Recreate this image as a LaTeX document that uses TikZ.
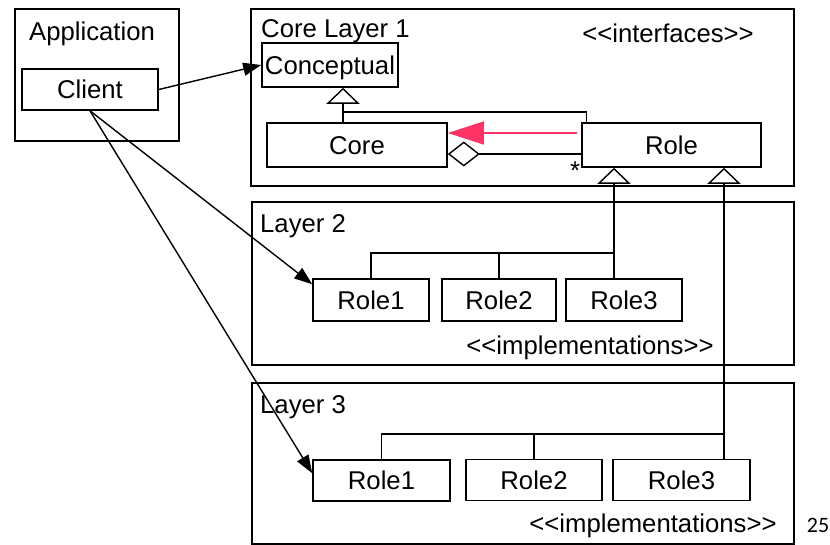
\documentclass[tikz,border=0pt]{standalone}
\usepackage{fontspec}
\setmainfont{Liberation Sans}
\newfontfamily\pagefont{Carlito}
\usetikzlibrary{arrows.meta}
\definecolor{hotpink}{RGB}{255,51,102}
\tikzset{
  layer/.style={draw, line width=1.6pt, inner sep=0pt, anchor=north west},
  box/.style={draw, line width=1.6pt, inner sep=0pt, minimum height=42,
              text height=18.5pt, text depth=0pt},
  title/.style={anchor=base west, inner sep=0pt},
  stereo/.style={anchor=base, inner sep=0pt},
  gen/.style={line width=1.4pt, -{Triangle[open, length=16pt, width=33pt]}},
  tree/.style={line width=1.4pt},
  agg/.style={line width=1.4pt, {Diamond[open, length=32pt, width=25pt]}-},
  nav/.style={line width=1.4pt, -{Triangle[length=18pt, width=13pt]}},
}

\begin{document}
\begin{tikzpicture}[x=1pt, y=-1pt, font=\fontsize{25.7}{30}\selectfont]
\useasboundingbox (0,0) rectangle (830,545);
% frames
\node[layer, minimum width=164, minimum height=132] (app) at (14,8) {};
\node[layer, minimum width=543, minimum height=177] (lay1) at (250,8) {};
\node[layer, minimum width=542, minimum height=163] (lay2) at (251,201) {};
\node[layer, minimum width=542, minimum height=161] (lay3) at (251,382) {};
\node[stereo] (apptitle) at (92,41) {Application};
\node[title] (lay1title) at (261,38) {Core Layer 1};
\node[title] (lay2title) at (260,233) {Layer 2};
\node[title] (lay3title) at (260,413) {Layer 3};
\node[stereo] (ifc) at (668,42.5) {<\kern0pt<interfaces>\kern0pt>};
\node[stereo] (impl2) at (590,354) {<\kern0pt<implementations>\kern0pt>};
\node[stereo] (impl3) at (653,532) {<\kern0pt<implementations>\kern0pt>};
\node[stereo, font=\pagefont\fontsize{22}{24}\selectfont] (pageno) at (818,532) {25};
% classes
\node[box, minimum width=136, minimum height=41] (client) at (90,89.5) {Client};
\node[box, minimum width=136, minimum height=44] (concept) at (330,65) {Conceptual};
\node[box, minimum width=180, minimum height=44] (core) at (357,145) {Core};
\node[box, minimum width=179, minimum height=44] (role) at (671.5,145) {Role};
\node[stereo] (mult) at (575,180) {*};
\node[box, minimum width=116] (l2role1) at (371,300) {Role1};
\node[box, minimum width=114] (l2role2) at (499,300) {Role2};
\node[box, minimum width=116] (l2role3) at (624,300) {Role3};
\node[box, minimum width=137, minimum height=41] (l3role1) at (381.5,480.5) {Role1};
\node[box, minimum width=136, minimum height=41] (l3role2) at (534,480) {Role2};
\node[box, minimum width=137, minimum height=41] (l3role3) at (681.5,480) {Role3};
% inheritance
\coordinate (j1) at (343,112);
\coordinate (t1) at (614,253);
\coordinate (t2) at (724,434);
\draw[gen] (core.north -| j1) -- (concept.south -| j1);
\draw[tree] ([xshift=-85]role.north) |- (j1);
\draw[gen] (l2role3.north -| t1) -- (role.south -| t1);
\draw[tree] (l2role1.north) |- (t1);
\draw[tree] (l2role2.north) -- (l2role2.north |- t1);
\draw[gen] (l3role3.north -| t2) -- (role.south -| t2);
\draw[tree] (l3role1.north) |- (t2);
\draw[tree] (l3role2.north) -- (l3role2.north |- t2);
% core and role
\draw[agg] ([yshift=-9]core.east) -- ([yshift=-9]role.west);
\draw[hotpink, line width=1.5pt, -{Triangle[length=36pt, width=23pt]}, shorten <=4pt]
  ([yshift=12]role.west) -- ([yshift=12]core.east);
% client uses
\draw[nav] (client.east) -- (concept.west);
\draw[nav] (client.south) -- ([yshift=-6]l2role1.north west);
\draw[nav] (client.south) -- ([yshift=-14]l3role1.north west);
\end{tikzpicture}
\end{document}
